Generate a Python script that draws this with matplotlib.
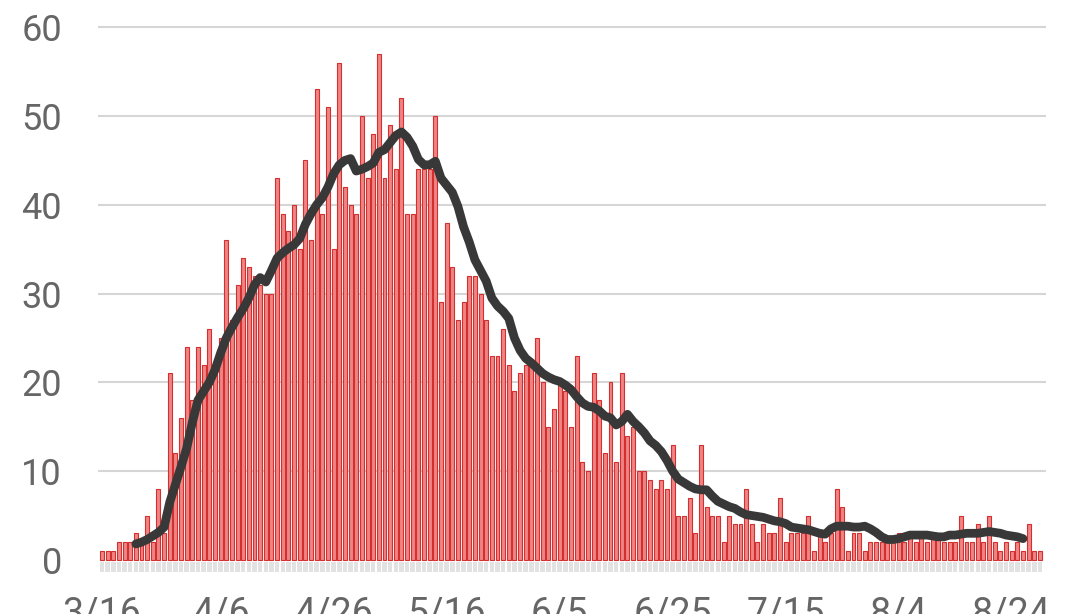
import numpy as np
import pandas as pd
import matplotlib
matplotlib.use("Agg")
import matplotlib.pyplot as plt

# --- Données : cas quotidiens (barres) et moyenne sur 7 jours (ligne) ---
start_date = "2020-03-16"

cases = [
    1, 1, 1, 2, 2, 2, 3, 2, 5, 2,
    8, 3, 21, 12, 16, 24, 18, 24, 22, 26,
    21, 25, 36, 27, 31, 34, 33, 32, 31, 30,
    30, 43, 39, 37, 40, 35, 45, 36, 53, 39,
    51, 35, 56, 42, 40, 39, 50, 43, 48, 57,
    43, 49, 44, 52, 39, 39, 44, 44, 44, 50,
    29, 38, 33, 27, 29, 32, 32, 30, 27, 23,
    23, 26, 22, 19, 21, 22, 22, 25, 20, 15,
    17, 20, 19, 15, 23, 11, 10, 21, 18, 12,
    20, 11, 21, 14, 15, 10, 10, 9, 8, 9,
    8, 13, 5, 5, 7, 3, 13, 6, 5, 5,
    2, 5, 4, 4, 8, 4, 2, 4, 3, 3,
    7, 2, 3, 3, 3, 5, 1, 3, 2, 3,
    8, 6, 1, 3, 3, 1, 2, 2, 2, 2,
    2, 3, 2, 3, 2, 3, 2, 3, 3, 2,
    2, 2, 5, 2, 2, 4, 2, 5, 2, 1,
    2, 1, 2, 1, 4, 1, 1,
]

# moyenne glissante, du jour 6 au jour 163
avg_start = 6
avg7 = [
    1.8, 2.0, 2.3, 2.7, 3.1, 3.7, 6.5, 8.5, 10.5, 12.6,
    15.5, 18.0, 19.0, 20.0, 21.4, 23.3, 25.0, 26.2, 27.3, 28.3,
    29.5, 31.0, 31.8, 31.3, 32.6, 34.0, 34.6, 35.1, 35.5, 36.2,
    37.8, 39.0, 40.0, 40.8, 42.0, 43.5, 44.5, 45.0, 45.2, 43.8,
    44.0, 44.3, 44.7, 45.9, 46.2, 47.0, 47.8, 48.2, 47.6, 46.6,
    45.1, 44.5, 44.5, 44.9, 43.0, 42.2, 41.4, 39.8, 37.5, 35.8,
    33.8, 32.6, 31.4, 29.5, 28.6, 28.0, 27.2, 25.0, 23.6, 22.7,
    22.2, 21.6, 21.0, 20.6, 20.3, 20.1, 19.7, 19.2, 18.4, 17.7,
    17.3, 17.2, 16.8, 16.2, 16.0, 15.2, 15.6, 16.4, 15.6, 15.0,
    14.3, 13.4, 12.9, 12.2, 11.2, 10.0, 9.1, 8.7, 8.3, 8.0,
    7.9, 7.9, 7.2, 6.6, 6.3, 6.0, 5.8, 5.4, 5.1, 5.0,
    4.9, 4.8, 4.6, 4.4, 4.3, 4.1, 3.7, 3.6, 3.5, 3.4,
    3.2, 3.0, 2.9, 3.5, 3.8, 3.8, 3.8, 3.7, 3.7, 3.8,
    3.5, 3.1, 2.6, 2.3, 2.3, 2.4, 2.6, 2.8, 2.8, 2.8,
    2.8, 2.7, 2.6, 2.6, 2.8, 2.8, 2.9, 3.0, 3.0, 3.0,
    3.1, 3.2, 3.1, 3.0, 2.8, 2.7, 2.6, 2.4,
]

tick_labels = ["3/16", "4/6", "4/26", "5/16", "6/5", "6/25", "7/15", "8/4", "8/24"]
y_ticks = [0, 10, 20, 30, 40, 50, 60]

# --- Axe temporel ---
dates = pd.date_range(start_date, periods=len(cases), freq="D")
day_labels = [f"{d.month}/{d.day}" for d in dates]
x = np.arange(len(cases))
x_avg = np.arange(avg_start, avg_start + len(avg7))
tick_pos = [day_labels.index(t) for t in tick_labels]

plt.rcParams["font.family"] = ["Roboto", "DejaVu Sans"]

fig = plt.figure(figsize=(10.71, 6.14), dpi=100)
ax = fig.add_axes([0.0915, 0.0678, 0.8848, 0.9024])

# bande grise sous les barres
ax.bar(x, 1.1, bottom=-1.35, width=0.8, color="#e2e2e2", linewidth=0)

# barres quotidiennes
ax.bar(x, cases, width=0.7, color="#ee8585", edgecolor="#d42f2f",
       linewidth=0.8, zorder=2)

# moyenne sur 7 jours
ax.plot(x_avg, avg7, color="#383838", linewidth=6.3,
        solid_capstyle="round", solid_joinstyle="round", zorder=3)

ax.set_xlim(-0.7, 167)
ax.set_ylim(-1.4, 61)
ax.set_yticks(y_ticks)
ax.set_yticklabels([str(v) for v in y_ticks])
ax.set_xticks(tick_pos)
ax.set_xticklabels(tick_labels)

ax.yaxis.grid(True, color="#d6d6d6", linewidth=1.5)
ax.get_ygridlines()[0].set_visible(False)
ax.set_axisbelow(True)

for s in ax.spines.values():
    s.set_visible(False)
ax.tick_params(axis="both", length=0, labelcolor="#666666")
ax.tick_params(axis="y", labelsize=26, pad=26)
ax.tick_params(axis="x", labelsize=27, pad=17)

plt.savefig("out.png", dpi=100)
